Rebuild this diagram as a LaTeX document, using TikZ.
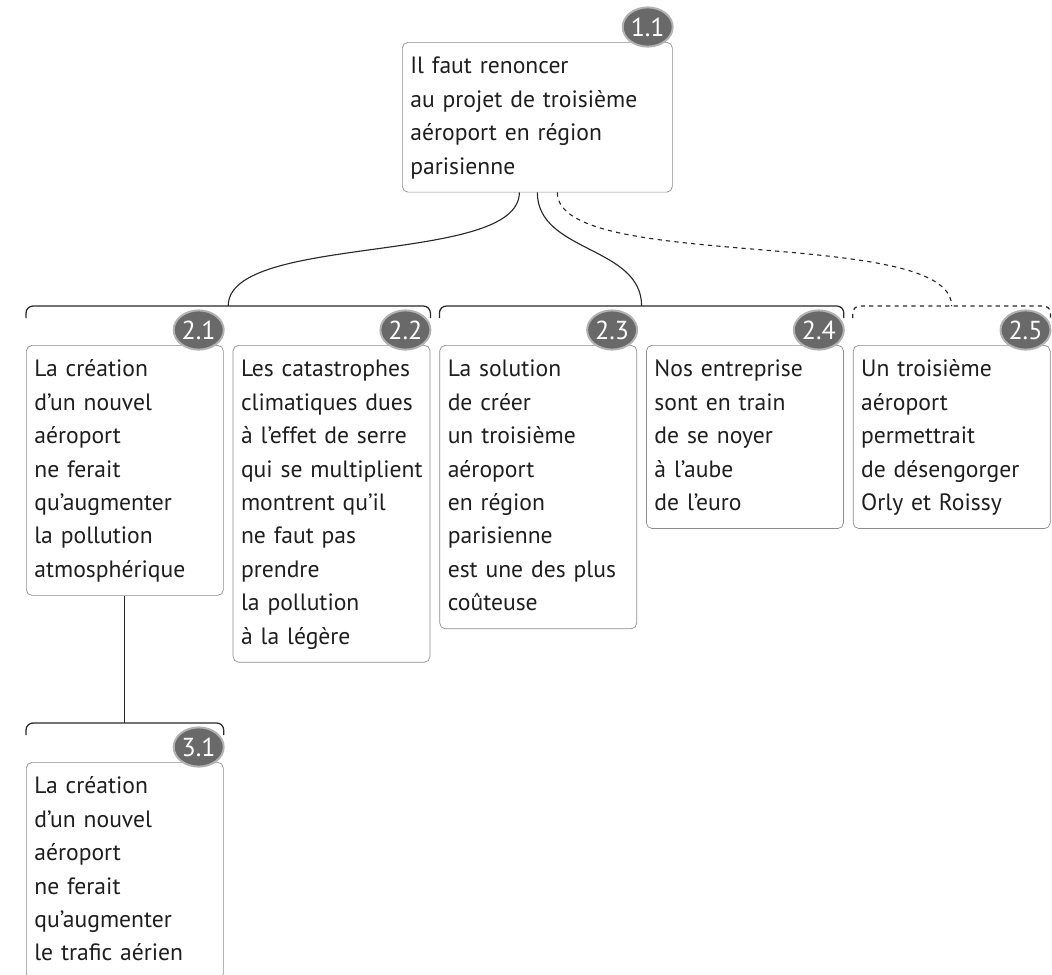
\documentclass[tikz,border=0pt]{standalone}
\usepackage{fontspec}
\setmainfont{PT Sans}
\usetikzlibrary{shapes.geometric,positioning,calc}
\definecolor{frameclr}{RGB}{140,140,140}
\definecolor{linkclr}{RGB}{40,40,40}
\definecolor{txtclr}{RGB}{30,30,30}
\definecolor{tagfill}{RGB}{105,105,105}
\definecolor{tagring}{RGB}{178,178,178}
\tikzset{
  argbox/.style={rectangle,rounded corners=4pt,draw=frameclr,line width=0.5pt,
    text width=4.525cm,inner xsep=0.2cm,inner ysep=5.75pt,
    font=\fontsize{16.8}{23.76}\selectfont,
    align=left,text=txtclr,
    execute at begin node=\strut,execute at end node=\strut},
  topbox/.style={argbox,text width=6.35cm},
  tag/.style={ellipse,fill=tagfill,draw=tagring,line width=1.4pt,
    minimum width=1.25cm,minimum height=0.98cm,inner sep=0pt,
    font=\fontsize{18.5}{18.5}\selectfont,text=white},
  brk/.style={draw=linkclr,line width=0.9pt,rounded corners=5pt},
  dbrk/.style={brk,dashed},
  link/.style={draw=linkclr,line width=0.8pt},
  dlink/.style={link,dashed},
}

\begin{document}
\begin{tikzpicture}
  \useasboundingbox (0,0) rectangle (26.3,-24.35);

  % claim
  \node[topbox,anchor=north west] (n11) at (10.05,-1.05)
    {Il faut renoncer\\au projet de troisième\\aéroport en région\\parisienne};

  % second level
  \node[argbox,anchor=north west] (n21) at (0.65,-8.625)
    {La création\\d’un nouvel\\aéroport\\ne ferait\\qu’augmenter\\la pollution\\atmosphérique};
  \node[argbox,right=0.225cm of n21.north east,anchor=north west] (n22)
    {Les catastrophes\\climatiques dues\\à l’effet de serre\\\mbox{qui se multiplient}\\montrent qu’il\\ne faut pas\\prendre\\la pollution\\à la légère};
  \node[argbox,right=0.225cm of n22.north east,anchor=north west] (n23)
    {La solution\\de créer\\un troisième\\aéroport\\en région\\parisienne\\est une des plus\\coûteuse};
  \node[argbox,right=0.225cm of n23.north east,anchor=north west] (n24)
    {Nos entreprise\\sont en train\\de se noyer\\à l’aube\\de l’euro};
  \node[argbox,right=0.225cm of n24.north east,anchor=north west] (n25)
    {Un troisième\\aéroport\\permettrait\\de désengorger\\Orly et Roissy};

  % third level
  \node[argbox,anchor=north west] (n31) at (0.65,-19.05)
    {La création\\d’un nouvel\\aéroport\\ne ferait\\qu’augmenter\\le trafic aérien};

  % group brackets
  \draw[brk] ([yshift=0.675cm]n21.north west) -- ([yshift=0.975cm]n21.north west)
    -- ([yshift=0.975cm]n22.north east) -- ([yshift=0.675cm]n22.north east);
  \draw[brk] ([yshift=0.675cm]n23.north west) -- ([yshift=0.975cm]n23.north west)
    -- ([yshift=0.975cm]n24.north east) -- ([yshift=0.675cm]n24.north east);
  \draw[dbrk] ([yshift=0.675cm]n25.north west) -- ([yshift=0.975cm]n25.north west)
    -- ([yshift=0.975cm]n25.north east) -- ([yshift=0.675cm]n25.north east);
  \draw[brk] ([yshift=0.675cm]n31.north west) -- ([yshift=0.975cm]n31.north west)
    -- ([yshift=0.975cm]n31.north east) -- ([yshift=0.675cm]n31.north east);

  \coordinate (g1) at ($([yshift=0.975cm]n21.north west)!0.5!([yshift=0.975cm]n22.north east)$);
  \coordinate (g2) at ($([yshift=0.975cm]n23.north west)!0.5!([yshift=0.975cm]n24.north east)$);
  \coordinate (g3) at ([yshift=0.975cm]n25.north);
  \coordinate (g4) at ([yshift=0.975cm]n31.north);

  % links
  \draw[link] ([xshift=-0.45cm]n11.south) to[out=-90,in=90,looseness=0.6] (g1);
  \draw[link] (n11.south) to[out=-90,in=90] (g2);
  \draw[dlink] ([xshift=0.5cm]n11.south) to[out=-90,in=90,looseness=0.5] (g3);
  \draw[link] (n21.south) -- (g4);

  % number tags
  \foreach \n/\t in {n11/1.1,n21/2.1,n22/2.2,n23/2.3,n24/2.4,n25/2.5,n31/3.1}
    \node[tag] (t\n) at ([xshift=-0.625cm,yshift=0.375cm]\n.north east) {\t};

\end{tikzpicture}
\end{document}
